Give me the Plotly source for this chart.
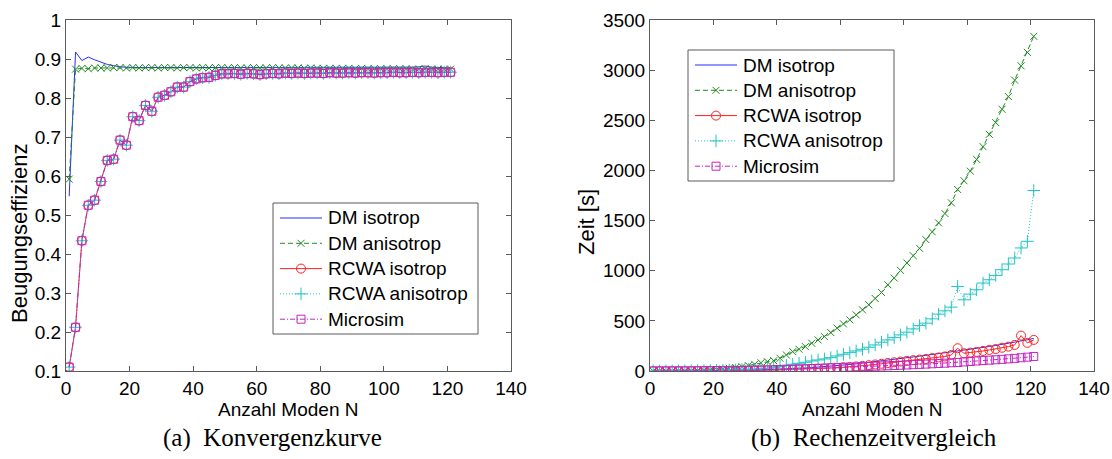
import plotly.graph_objects as go

# Mode counts (odd numbers of modes used in both studies)
modes = list(range(1, 122, 2))

# Diffraction efficiency per method
eff_dm_iso = [0.548, 0.918, 0.896, 0.905, 0.898, 0.891, 0.886, 0.883, 0.880, 0.879,
              0.878, 0.878, 0.878, 0.878, 0.878, 0.878, 0.878, 0.878, 0.878, 0.878,
              0.878, 0.878, 0.878, 0.878, 0.878, 0.878, 0.878, 0.878, 0.878, 0.878,
              0.878, 0.878, 0.878, 0.878, 0.878, 0.878, 0.878, 0.878, 0.878, 0.878,
              0.878, 0.878, 0.878, 0.878, 0.878, 0.878, 0.878, 0.878, 0.878, 0.878,
              0.878, 0.878, 0.878, 0.878, 0.879, 0.880, 0.882, 0.879, 0.878, 0.878,
              0.877]
eff_dm_aniso = [0.592, 0.874, 0.876, 0.875, 0.877, 0.877, 0.877, 0.878, 0.878, 0.877,
                0.878, 0.877, 0.878, 0.878, 0.877, 0.878, 0.878, 0.877, 0.878, 0.878,
                0.877, 0.878, 0.877, 0.878, 0.878, 0.877, 0.878, 0.877, 0.877, 0.878,
                0.877, 0.877, 0.878, 0.877, 0.877, 0.877, 0.877, 0.876, 0.877, 0.876,
                0.876, 0.876, 0.876, 0.876, 0.876, 0.875, 0.876, 0.875, 0.875, 0.875,
                0.875, 0.875, 0.875, 0.875, 0.874, 0.874, 0.875, 0.874, 0.874, 0.874,
                0.874]
eff_rcwa_iso = [0.110, 0.212, 0.434, 0.525, 0.538, 0.586, 0.640, 0.643, 0.692, 0.679,
                0.752, 0.742, 0.781, 0.766, 0.802, 0.807, 0.816, 0.828, 0.828, 0.842,
                0.849, 0.852, 0.853, 0.858, 0.862, 0.862, 0.863, 0.861, 0.863, 0.862,
                0.860, 0.862, 0.863, 0.862, 0.864, 0.863, 0.864, 0.863, 0.864, 0.864,
                0.863, 0.865, 0.864, 0.864, 0.865, 0.864, 0.865, 0.865, 0.864, 0.865,
                0.865, 0.866, 0.865, 0.865, 0.866, 0.865, 0.866, 0.866, 0.865, 0.866,
                0.866]
eff_rcwa_aniso = list(eff_rcwa_iso)
eff_microsim = list(eff_rcwa_iso)

# Computation time [s] per method
t_dm_iso = [0.1, 0.2, 0.3, 0.4, 0.6, 0.8, 1.0, 1.3, 1.7, 2.2,
            2.8, 3.5, 4.3, 5.3, 6.4, 7.7, 9.2, 10.9, 12.8, 15,
            17, 20, 23, 26, 30, 34, 38, 43, 48, 53,
            59, 65, 71, 78, 85, 92, 100, 108, 116, 124,
            132, 140, 148, 156, 164, 172, 181, 190, 199, 208,
            216, 225, 234, 244, 254, 264, 275, 288, 300, 312,
            325]
t_dm_aniso = [0.3, 0.5, 1, 1, 2, 3, 4, 5, 8, 11,
              15, 20, 27, 34, 43, 54, 67, 82, 93, 103,
              127, 160, 193, 217, 243, 277, 310, 343, 383, 427,
              470, 510, 560, 610, 660, 723, 783, 860, 927, 1003,
              1077, 1150, 1223, 1310, 1387, 1477, 1570, 1677, 1810, 1897,
              1993, 2110, 2237, 2360, 2477, 2610, 2737, 2900, 3043, 3177,
              3337]
t_rcwa_iso = [0.1, 0.1, 0.15, 0.2, 0.3, 0.4, 0.6, 0.8, 1.1, 1.4,
              1.8, 2.3, 2.9, 3.5, 4.2, 5, 6, 7, 8, 9.5,
              11, 13, 15, 17, 19, 22, 24, 27, 30, 33,
              37, 40, 45, 51, 58, 65, 72, 80, 87, 94,
              101, 108, 114, 120, 128, 135, 145, 160, 227, 177,
              183, 190, 200, 210, 219, 232, 243, 260, 353, 280,
              310]
t_rcwa_aniso = [0.5, 0.6, 1, 1, 1.5, 2, 2.5, 3, 4, 5,
                6, 8, 10, 12, 14, 16, 18, 22, 27, 37,
                47, 57, 67, 77, 87, 100, 110, 120, 133, 150,
                167, 183, 200, 217, 237, 260, 287, 310, 333, 360,
                387, 420, 453, 477, 520, 567, 600, 637, 843, 710,
                767, 810, 877, 910, 953, 1010, 1067, 1127, 1227, 1293,
                1800]
t_microsim = [0.1, 0.1, 0.2, 0.3, 0.4, 0.6, 0.8, 1.1, 1.5, 2,
              2.6, 3.3, 4, 5, 6, 7, 8, 9.5, 11, 12,
              14, 16, 18, 20, 22, 24, 26, 28, 31, 33,
              36, 38, 40, 43, 45, 48, 50, 52, 55, 57,
              60, 63, 66, 69, 72, 75, 78, 82, 85, 90,
              95, 100, 104, 108, 112, 116, 121, 126, 132, 138,
              145]

series_names = ["DM isotrop", "DM anisotrop", "RCWA isotrop", "RCWA anisotrop", "Microsim"]
x_ticks = [0, 20, 40, 60, 80, 100, 120, 140]
eff_ticks = [0.1, 0.2, 0.3, 0.4, 0.5, 0.6, 0.7, 0.8, 0.9, 1.0]
eff_ticktext = ["0.1", "0.2", "0.3", "0.4", "0.5", "0.6", "0.7", "0.8", "0.9", "1"]
time_ticks = [0, 500, 1000, 1500, 2000, 2500, 3000, 3500]

BLUE = "#2b2bff"
GREEN = "#1f8a1f"
RED = "#ff2020"
CYAN = "#22c4c4"
MAGENTA = "#c424c4"

styles = [
    dict(line=dict(color=BLUE, width=1), marker=None),
    dict(line=dict(color=GREEN, width=1, dash="5px,3px"),
         marker=dict(symbol="x-thin-open", size=7, color=GREEN, line=dict(color=GREEN, width=1))),
    dict(line=dict(color=RED, width=1),
         marker=dict(symbol="circle-open", size=9, color=RED, line=dict(color=RED, width=1))),
    dict(line=dict(color=CYAN, width=1, dash="1px,2px"),
         marker=dict(symbol="cross-thin-open", size=9, color=CYAN, line=dict(color=CYAN, width=1))),
    dict(line=dict(color=MAGENTA, width=1, dash="5px,2px,1px,2px"),
         marker=dict(symbol="square-open", size=8, color=MAGENTA, line=dict(color=MAGENTA, width=1))),
]

W, H = 1112, 459
AX_COLOR = "#5a5a5a"
SANS = "Liberation Sans, Arial, sans-serif"
SERIF = "Liberation Serif, Times New Roman, serif"


def px_x(p):
    return p / W


def px_y(p):
    return 1 - p / H


fig = go.Figure()

left_data = [eff_dm_iso, eff_dm_aniso, eff_rcwa_iso, eff_rcwa_aniso, eff_microsim]
right_data = [t_dm_iso, t_dm_aniso, t_rcwa_iso, t_rcwa_aniso, t_microsim]


def add_series(data, xa, ya):
    for name, ys, st in zip(series_names, data, styles):
        kw = dict(x=modes, y=ys, name=name, line=st["line"], xaxis=xa, yaxis=ya,
                  showlegend=False, hoverinfo="x+y+name")
        if st["marker"]:
            kw["mode"] = "lines+markers"
            kw["marker"] = st["marker"]
        else:
            kw["mode"] = "lines"
        fig.add_trace(go.Scatter(**kw))


add_series(left_data, "x", "y")
add_series(right_data, "x2", "y2")

# Boxed legends, drawn on a full-page overlay axis measured in pixels
shapes = []
annotations = []
ROW_STEP = 25.3


def add_legend(left, top, right, bottom, first_row):
    shapes.append(dict(type="rect", xref="paper", yref="paper",
                       x0=px_x(left), x1=px_x(right), y0=px_y(bottom), y1=px_y(top),
                       line=dict(color=AX_COLOR, width=1), fillcolor="white", layer="below"))
    for i, (name, st) in enumerate(zip(series_names, styles)):
        yy = first_row + i * ROW_STEP
        fig.add_trace(go.Scatter(x=[left + 7, left + 49], y=[yy, yy], mode="lines",
                                 line=st["line"], xaxis="x3", yaxis="y3",
                                 showlegend=False, hoverinfo="skip"))
        if st["marker"]:
            fig.add_trace(go.Scatter(x=[left + 28], y=[yy], mode="markers", marker=st["marker"],
                                     xaxis="x3", yaxis="y3", showlegend=False, hoverinfo="skip"))
        annotations.append(dict(text=name, x=px_x(left + 53), y=px_y(yy), xanchor="left",
                                yanchor="middle", font=dict(family=SANS, size=19, color="black")))


add_legend(273, 203, 478, 334, 218)
add_legend(688, 50, 894, 181, 65)

tickfont = dict(family=SANS, size=19, color="black")
axis_common = dict(showline=True, linecolor=AX_COLOR, linewidth=1, mirror="ticks",
                   ticks="inside", ticklen=5, tickcolor=AX_COLOR, tickwidth=1,
                   showgrid=False, zeroline=False, tickfont=tickfont, automargin=False)

y_dom = [px_y(371), px_y(20)]

fig.update_layout(
    width=W, height=H,
    margin=dict(l=0, r=0, t=0, b=0),
    paper_bgcolor="white", plot_bgcolor="rgba(0,0,0,0)",
    showlegend=False,
    xaxis=dict(domain=[px_x(66), px_x(511)], range=[0, 140], tickvals=x_ticks,
               anchor="y", **axis_common),
    yaxis=dict(domain=y_dom, range=[0.1, 1.0], tickvals=eff_ticks, ticktext=eff_ticktext,
               anchor="x", **axis_common),
    xaxis2=dict(domain=[px_x(650), px_x(1094)], range=[0, 140], tickvals=x_ticks,
                anchor="y2", **axis_common),
    yaxis2=dict(domain=y_dom, range=[0, 3500], tickvals=time_ticks,
                anchor="x2", **axis_common),
    xaxis3=dict(domain=[0, 1], range=[0, W], visible=False, anchor="y3", fixedrange=True),
    yaxis3=dict(domain=[0, 1], range=[H, 0], visible=False, anchor="x3", fixedrange=True),
)

label_font = dict(family=SANS, size=19, color="black")
annotations += [
    dict(text="Anzahl Moden N", x=px_x(288), y=px_y(409), font=label_font),
    dict(text="Anzahl Moden N", x=px_x(872), y=px_y(409), font=label_font),
    dict(text="Beugungseffizienz", x=px_x(20), y=px_y(234), textangle=-90,
         font=dict(family=SANS, size=22, color="black")),
    dict(text="Zeit [s]", x=px_x(586), y=px_y(222), textangle=-90,
         font=dict(family=SANS, size=22, color="black")),
    dict(text="(a)\u2002Konvergenzkurve", x=px_x(272), y=px_y(438),
         font=dict(family=SERIF, size=25, color="black")),
    dict(text="(b)\u2002Rechenzeitvergleich", x=px_x(874), y=px_y(438),
         font=dict(family=SERIF, size=25, color="black")),
]
for a in annotations:
    a.update(xref="paper", yref="paper", showarrow=False)
    a.setdefault("xanchor", "center")
    a.setdefault("yanchor", "middle")

fig.update_layout(shapes=shapes, annotations=annotations)

fig.write_html("out.html")
